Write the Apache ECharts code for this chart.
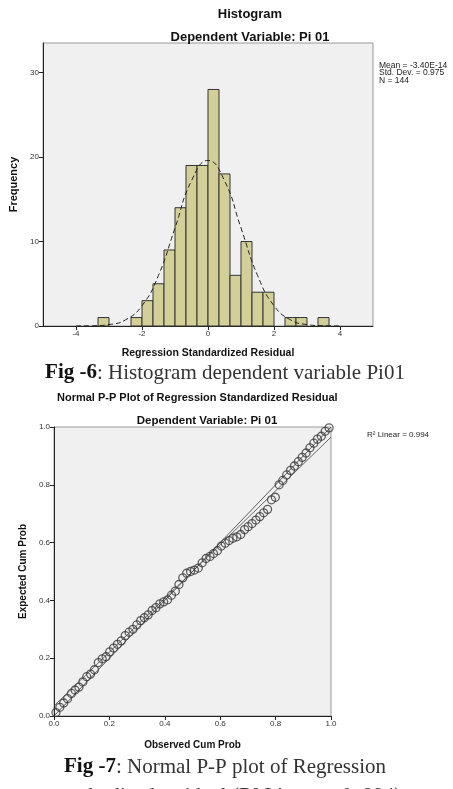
<!DOCTYPE html>
<html>
<head>
<meta charset="utf-8">
<script src="https://cdn.jsdelivr.net/npm/echarts@6/dist/echarts.min.js"></script>
<style>
  html, body { margin: 0; padding: 0; background: #fff; }
  #chart { width: 453px; height: 789px; }
</style>
</head>
<body>
<div id="chart"></div>
<script>
// histogram bins (lower edge, upper edge, count)
var binLo = [-3.333, -2.333, -2.0, -1.667, -1.333, -1.0, -0.667, -0.333, 0.0, 0.333, 0.667, 1.0, 1.333, 1.667, 2.333, 2.667, 3.333];
var binHi = [-3.0, -2.0, -1.667, -1.333, -1.0, -0.667, -0.333, 0.0, 0.333, 0.667, 1.0, 1.333, 1.667, 2.0, 2.667, 3.0, 3.667];
var counts = [1, 1, 3, 5, 9, 14, 19, 19, 28, 18, 6, 10, 4, 4, 1, 1, 1];

// normal curve
var curveX = [-4, -3.5, -3, -2.5, -2, -1.5, -1, -0.5, 0, 0.5, 1, 1.5, 2, 2.5, 3, 3.5, 4];
var curveY = [0.01, 0.03, 0.17, 0.73, 2.4, 6.0, 11.6, 17.2, 19.6, 17.2, 11.6, 6.0, 2.4, 0.73, 0.17, 0.03, 0.01];

var histXTicks = [-4, -2, 0, 2, 4];
var histYTicks = [0, 10, 20, 30];
var statsText = ['Mean = -3.40E-14', 'Std. Dev. = 0.975', 'N = 144'];

// P-P plot points (observed, expected)
var ppObs = [0.007, 0.021, 0.035, 0.049, 0.063, 0.076, 0.09, 0.104, 0.118, 0.132, 0.146, 0.16, 0.174, 0.188, 0.201, 0.215, 0.229, 0.243, 0.257, 0.271, 0.285, 0.299, 0.313, 0.326, 0.34, 0.354, 0.368, 0.382, 0.396, 0.41, 0.424, 0.438, 0.451, 0.465, 0.479, 0.493, 0.507, 0.521, 0.535, 0.549, 0.563, 0.576, 0.59, 0.604, 0.618, 0.632, 0.646, 0.66, 0.674, 0.688, 0.701, 0.715, 0.729, 0.743, 0.757, 0.771, 0.785, 0.799, 0.813, 0.826, 0.84, 0.854, 0.868, 0.882, 0.896, 0.91, 0.924, 0.938, 0.951, 0.965, 0.979, 0.993];
var ppExp = [0.012, 0.03, 0.045, 0.06, 0.078, 0.09, 0.1, 0.118, 0.136, 0.145, 0.16, 0.185, 0.198, 0.205, 0.222, 0.235, 0.248, 0.26, 0.278, 0.29, 0.3, 0.315, 0.33, 0.34, 0.35, 0.365, 0.375, 0.388, 0.395, 0.402, 0.418, 0.432, 0.455, 0.478, 0.494, 0.5, 0.505, 0.512, 0.53, 0.545, 0.552, 0.562, 0.572, 0.588, 0.598, 0.607, 0.615, 0.62, 0.628, 0.645, 0.655, 0.666, 0.678, 0.69, 0.703, 0.715, 0.748, 0.757, 0.8, 0.815, 0.834, 0.85, 0.865, 0.88, 0.895, 0.91, 0.928, 0.944, 0.958, 0.968, 0.985, 0.997];
var refLine = [[0, 0], [1, 1]];
var fitLine = [[0, 0.035], [1, 0.965]];
var ppTicks = [0, 0.2, 0.4, 0.6, 0.8, 1.0];

var chartDom = document.getElementById('chart');
var myChart = echarts.init(chartDom);
var option;

var sans = 'Liberation Sans, Arial, sans-serif';
var serif = 'Liberation Serif, DejaVu Serif, serif';

var histData = [];
for (var i = 0; i < counts.length; i++) {
    histData.push([binLo[i], binHi[i], counts[i]]);
}
var curveData = [];
for (var j = 0; j < curveX.length; j++) {
    curveData.push([curveX[j], curveY[j]]);
}
var ppData = [];
for (var k = 0; k < ppObs.length; k++) {
    ppData.push([ppObs[k], ppExp[k]]);
}

var axisCommon = {
    axisLine: { show: true, onZero: false, lineStyle: { color: '#222', width: 1 } },
    splitLine: { show: false }
};

option = {
    animation: false,
    backgroundColor: '#fff',
    title: [
        { text: 'Histogram', left: 245, top: 3, textAlign: 'center',
          textStyle: { fontFamily: sans, fontSize: 13, fontWeight: 'bold', color: '#111' } },
        { text: 'Dependent Variable: Pi 01', left: 245, top: 26, textAlign: 'center',
          textStyle: { fontFamily: sans, fontSize: 13, fontWeight: 'bold', color: '#111' } },
        { text: 'Normal P-P Plot of Regression Standardized Residual', left: 52, top: 387,
          textStyle: { fontFamily: sans, fontSize: 11, fontWeight: 'bold', color: '#111' } },
        { text: 'Dependent Variable: Pi 01', left: 202, top: 410, textAlign: 'center',
          textStyle: { fontFamily: sans, fontSize: 11.5, fontWeight: 'bold', color: '#111' } }
    ],
    graphic: [
        { type: 'text', left: 379, top: 61,
          style: { text: statsText.join('\n'), font: '8.5px ' + sans, lineHeight: 7.5, fill: '#222' } },
        { type: 'text', left: 367, top: 431,
          style: { text: 'R\u00b2 Linear = 0.994', font: '8px ' + sans, fill: '#222' } },
        { type: 'text', x: 225, y: 373,
          style: { text: '{b|Fig -6}: Histogram dependent variable Pi01', align: 'center', verticalAlign: 'middle',
                   font: '21px ' + serif, fill: '#333',
                   rich: { b: { font: 'bold 21px ' + serif, fill: '#111' } } } },
        { type: 'text', x: 225, y: 767,
          style: { text: '{b|Fig -7}: Normal P-P plot of Regression', align: 'center', verticalAlign: 'middle',
                   font: '21px ' + serif, fill: '#333',
                   rich: { b: { font: 'bold 21px ' + serif, fill: '#111' } } } },
        { type: 'text', x: 225, y: 796,
          style: { text: 'standardized residual (R\u00b2 Linear = 0. 994)', align: 'center', verticalAlign: 'middle',
                   font: '21px ' + serif, fill: '#333' } }
    ],
    grid: [
        { left: 40, top: 43, width: 333, height: 283, show: true,
          backgroundColor: '#f0f0f0', borderColor: '#999', borderWidth: 1 },
        { left: 54, top: 427, width: 277, height: 289, show: true,
          backgroundColor: '#f0f0f0', borderColor: '#999', borderWidth: 1 }
    ],
    xAxis: [
        Object.assign({}, axisCommon, {
            type: 'value', gridIndex: 0, min: -5, max: 5,
            name: 'Regression Standardized Residual', nameLocation: 'middle', nameGap: 22,
            nameTextStyle: { fontFamily: sans, fontWeight: 'bold', fontSize: 10.5, color: '#111' },
            axisTick: { show: true, length: 4, customValues: histXTicks, lineStyle: { color: '#222' } },
            axisLabel: { customValues: histXTicks, fontFamily: sans, fontSize: 8, color: '#333', margin: 4 }
        }),
        Object.assign({}, axisCommon, {
            type: 'value', gridIndex: 1, min: 0, max: 1,
            name: 'Observed Cum Prob', nameLocation: 'middle', nameGap: 24,
            nameTextStyle: { fontFamily: sans, fontWeight: 'bold', fontSize: 10, color: '#111' },
            axisTick: { show: true, length: 4, customValues: ppTicks, lineStyle: { color: '#222' } },
            axisLabel: { customValues: ppTicks, fontFamily: sans, fontSize: 8, color: '#333', margin: 4,
                         formatter: function (v) { return v.toFixed(1); } }
        })
    ],
    yAxis: [
        Object.assign({}, axisCommon, {
            type: 'value', gridIndex: 0, min: 0, max: 33.5,
            name: 'Frequency', nameLocation: 'middle', nameGap: 24,
            nameTextStyle: { fontFamily: sans, fontWeight: 'bold', fontSize: 11, color: '#111' },
            axisTick: { show: true, length: 4, customValues: histYTicks, lineStyle: { color: '#222' } },
            axisLabel: { customValues: histYTicks, fontFamily: sans, fontSize: 8, color: '#333', margin: 4 }
        }),
        Object.assign({}, axisCommon, {
            type: 'value', gridIndex: 1, min: 0, max: 1,
            name: 'Expected Cum Prob', nameLocation: 'middle', nameGap: 22,
            nameTextStyle: { fontFamily: sans, fontWeight: 'bold', fontSize: 10, color: '#111' },
            axisTick: { show: true, length: 4, customValues: ppTicks, lineStyle: { color: '#222' } },
            axisLabel: { customValues: ppTicks, fontFamily: sans, fontSize: 8, color: '#333', margin: 4,
                         formatter: function (v) { return v.toFixed(1); } }
        })
    ],
    series: [
        {
            type: 'custom', xAxisIndex: 0, yAxisIndex: 0,
            data: histData,
            encode: { x: [0, 1], y: 2 },
            renderItem: function (params, api) {
                var p0 = api.coord([api.value(0), api.value(2)]);
                var p1 = api.coord([api.value(1), 0]);
                return {
                    type: 'rect',
                    shape: { x: p0[0], y: p0[1], width: p1[0] - p0[0], height: p1[1] - p0[1] },
                    style: { fill: '#d3cf98', stroke: '#333', lineWidth: 1 }
                };
            }
        },
        {
            type: 'line', xAxisIndex: 0, yAxisIndex: 0,
            data: curveData, smooth: true, showSymbol: false,
            lineStyle: { color: '#222', width: 1, type: [5, 3] }
        },
        {
            type: 'line', xAxisIndex: 1, yAxisIndex: 1,
            data: refLine, showSymbol: false,
            lineStyle: { color: '#333', width: 0.8 }
        },
        {
            type: 'line', xAxisIndex: 1, yAxisIndex: 1,
            data: fitLine, showSymbol: false,
            lineStyle: { color: '#444', width: 0.8 }
        },
        {
            type: 'scatter', xAxisIndex: 1, yAxisIndex: 1,
            data: ppData, symbol: 'circle', symbolSize: 8,
            itemStyle: { color: 'rgba(0,0,0,0)', borderColor: '#3a3a3a', borderWidth: 1.3 }
        }
    ]
};

option && myChart.setOption(option);
</script>
</body>
</html>
